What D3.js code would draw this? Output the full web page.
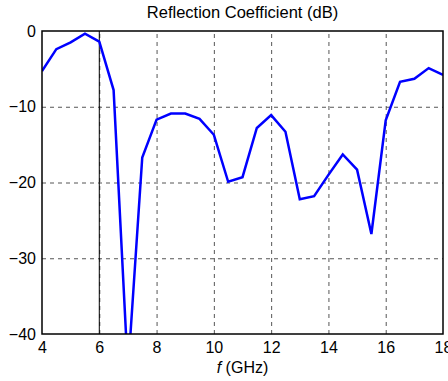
<!DOCTYPE html>
<html>
<head>
<meta charset="utf-8">
<script src="https://cdn.jsdelivr.net/npm/d3@7"></script>
<style>
  body { margin: 0; background: #fff; }
  text { font-family: "Liberation Sans", Arial, sans-serif; }
</style>
</head>
<body>
<script>
// data (GHz, dB)
var freq = [4, 4.5, 5, 5.5, 6, 6.5, 7, 7.5, 8, 8.5, 9, 9.5, 10, 10.5, 11, 11.5, 12, 12.5, 13, 13.5, 14, 14.5, 15, 15.5, 16, 16.5, 17, 17.5, 18];
var refl = [-5.3, -2.4, -1.5, -0.35, -1.4, -7.8, -45, -16.7, -11.7, -10.9, -10.9, -11.6, -13.7, -19.9, -19.3, -12.8, -11.1, -13.3, -22.2, -21.8, -19.0, -16.3, -18.3, -26.8, -11.8, -6.7, -6.3, -4.9, -5.8];
var xTicks = [4, 6, 8, 10, 12, 14, 16, 18];
var yTicks = [0, -10, -20, -30, -40];
var markerFreq = 6;

var margin = {top: 31, right: 5, bottom: 47, left: 42};
var width = 448 - margin.left - margin.right;
var height = 381 - margin.top - margin.bottom;

var svg = d3.select("body")
  .append("svg")
  .attr("width", 448)
  .attr("height", 381)
  .append("g")
  .attr("transform", "translate(" + margin.left + "," + margin.top + ")");

var x = d3.scaleLinear().domain([4, 18]).range([0, width]);
var y = d3.scaleLinear().domain([-40, 0]).range([height, 0]);

// dashed grid
svg.append("g")
  .attr("class", "grid")
  .attr("transform", "translate(0," + height + ")")
  .call(d3.axisBottom(x).tickValues(xTicks.slice(1, -1)).tickSize(-height).tickFormat(""))
  .call(function(g) { g.select(".domain").remove(); });
svg.append("g")
  .attr("class", "grid")
  .call(d3.axisLeft(y).tickValues(yTicks.slice(1, -1)).tickSize(-width).tickFormat(""))
  .call(function(g) { g.select(".domain").remove(); });
svg.selectAll(".grid line")
  .attr("stroke", "#555")
  .attr("stroke-width", 1)
  .attr("stroke-dasharray", "4,4");

// solid marker line at 6 GHz
svg.append("line")
  .attr("x1", x(markerFreq)).attr("x2", x(markerFreq))
  .attr("y1", 0).attr("y2", height)
  .attr("stroke", "#000")
  .attr("stroke-width", 1);

svg.append("clipPath")
  .attr("id", "clip")
  .append("rect")
  .attr("width", width)
  .attr("height", height);

var line = d3.line()
  .x(function(d, i) { return x(freq[i]); })
  .y(function(d) { return y(d); });

svg.append("path")
  .attr("clip-path", "url(#clip)")
  .attr("fill", "none")
  .attr("stroke", "#0000ff")
  .attr("stroke-width", 2.5)
  .attr("stroke-linejoin", "miter")
  .attr("d", line(refl));

// frame
svg.append("rect")
  .attr("width", width)
  .attr("height", height)
  .attr("fill", "none")
  .attr("stroke", "#000")
  .attr("stroke-width", 1.5);

// tick labels
var xAxis = svg.append("g")
  .attr("transform", "translate(0," + height + ")")
  .call(d3.axisBottom(x).tickValues(xTicks).tickSize(0).tickPadding(8).tickFormat(d3.format("d")));
var yAxis = svg.append("g")
  .call(d3.axisLeft(y).tickValues(yTicks).tickSize(0).tickPadding(6).tickFormat(d3.format("d")));
svg.selectAll(".domain").remove();
svg.selectAll(".tick text")
  .attr("fill", "#000")
  .style("font-size", "16px")
  .style("font-family", "'Liberation Sans', Arial, sans-serif");

svg.append("text")
  .attr("x", width / 2)
  .attr("y", -13)
  .style("text-anchor", "middle")
  .style("font-size", "16.5px")
  .text("Reflection Coefficient (dB)");

var xl = svg.append("text")
  .attr("x", width / 2)
  .attr("y", height + 39)
  .style("text-anchor", "middle")
  .style("font-size", "16px");
xl.append("tspan").style("font-style", "italic").text("f");
xl.append("tspan").text(" (GHz)");
</script>
</body>
</html>
